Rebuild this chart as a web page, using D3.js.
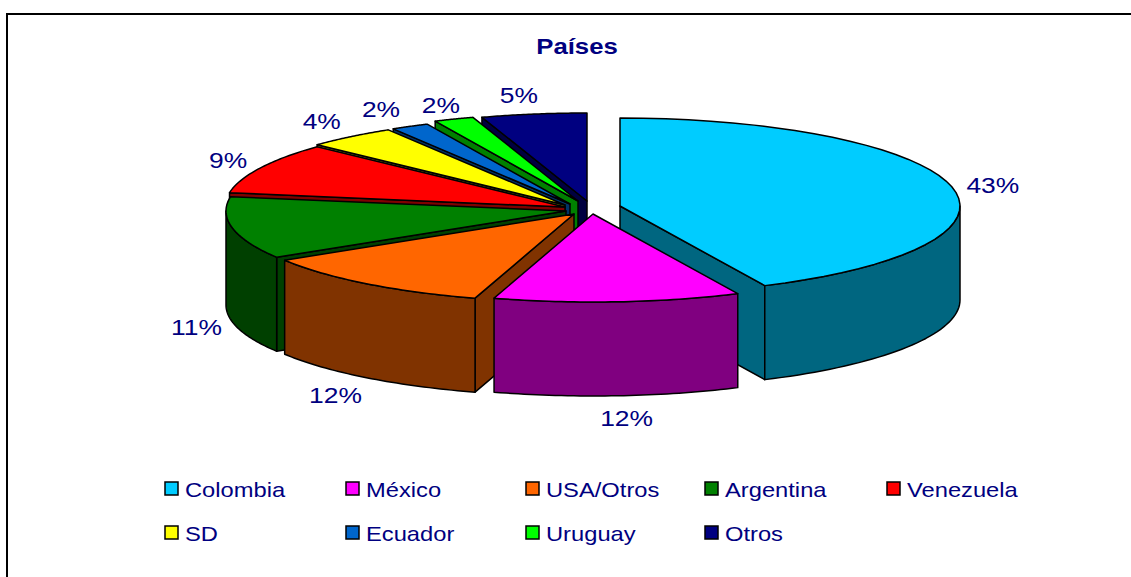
<!DOCTYPE html>
<html>
<head>
<meta charset="utf-8">
<script src="https://cdn.jsdelivr.net/npm/d3@7"></script>
<style>
  html, body { margin: 0; background: #fff; }
  svg { display: block; }
  text { font-family: "Liberation Sans", Arial, sans-serif; fill: #000080; }
</style>
</head>
<body>
<svg width="1131" height="577"></svg>
<script>
const categories = ["Colombia", "México", "USA/Otros", "Argentina", "Venezuela", "SD", "Ecuador", "Uruguay", "Otros"];
const shares = [43, 11.7, 11.5, 11.4, 9.4, 4.3, 1.8, 1.9, 5];
const topColors = ["#00ccff", "#ff00ff", "#ff6600", "#008000", "#ff0000", "#ffff00", "#0066cc", "#00ff00", "#000080"];
const wallColors = ["#006680", "#800080", "#803300", "#004000", "#800000", "#808000", "#003366", "#008000", "#000040"];

// where each exploded slice ends up, measured from the pie centre
const pieCentre = [580, 208];
const explode = [[40, -2], [13, 6], [-6, 6], [-14, 3], [-15, -1], [-15, -3], [-10, -4], [-2, -7], [7, -7]];
// label nudges from the rim
const labelNudge = [[41, -2], [9, 22], [-31, 17], [-36, 5], [-32, -8], [-29, -16], [-29, -17], [-13, -14], [-15, -19]];
const drawOrder = [8, 7, 6, 5, 4, 0, 3, 2, 1];

const rx = 340;
const ry = 88;
const depth = 94;
// the original text is wider than the font
const labelStretch = 1.2;
const legendStretch = 1.13;

const svg = d3.select("svg");

svg.append("rect")
  .attr("x", 7).attr("y", 14)
  .attr("width", 1140).attr("height", 580)
  .attr("fill", "#fff").attr("stroke", "#000").attr("stroke-width", 2);

// clockwise from 12 o'clock, same as d3.pie
const slices = d3.pie().sort(null).value((d) => d)(shares);

const xScale = d3.scaleLinear().domain([-1, 1]).range([-rx, rx]);
const yScale = d3.scaleLinear().domain([-1, 1]).range([-ry, ry]);

const rim = (i, a) => [
  pieCentre[0] + explode[i][0] + xScale(Math.sin(a)),
  pieCentre[1] + explode[i][1] + yScale(-Math.cos(a)),
];
const apex = (i) => [pieCentre[0] + explode[i][0], pieCentre[1] + explode[i][1]];
const down = (p) => [p[0], p[1] + depth];
const arcPoints = (i, a0, a1) =>
  d3.range(0, 41).map((k) => rim(i, a0 + ((a1 - a0) * k) / 40));

const line = d3.line();
const pies = svg.append("g")
  .attr("stroke", "#000").attr("stroke-width", 1.5).attr("stroke-linejoin", "round");

drawOrder.forEach((i) => {
  const s = slices[i];
  const g = pies.append("g");

  // cut faces turned towards the viewer
  [s.startAngle, s.endAngle].forEach((a, k) => {
    const visible = k === 0 ? Math.sin(a) < -0.001 : Math.sin(a) > 0.001;
    if (!visible) return;
    const r = rim(i, a);
    g.append("path")
      .attr("d", line([apex(i), r, down(r), down(apex(i))]) + "Z")
      .attr("fill", wallColors[i]);
  });

  // outer wall, only the front half of the rim
  const a0 = Math.max(s.startAngle, Math.PI / 2);
  const a1 = Math.min(s.endAngle, (3 * Math.PI) / 2);
  if (a1 > a0) {
    const front = arcPoints(i, a0, a1);
    g.append("path")
      .attr("d", line([...front, ...front.map(down).reverse()]) + "Z")
      .attr("fill", wallColors[i]);
  }

  g.append("path")
    .attr("d", line([apex(i), ...arcPoints(i, s.startAngle, s.endAngle)]) + "Z")
    .attr("fill", topColors[i]);
});

const wideText = (sel, x, y, stretch) =>
  sel.attr("transform", `translate(${x},${y}) scale(${stretch},1)`);

// percentage labels
slices.forEach((s, i) => {
  const mid = (s.startAngle + s.endAngle) / 2;
  const p = rim(i, mid);
  const y = p[1] + (Math.cos(mid) < 0 ? depth : 0);
  svg.append("text")
    .call(wideText, p[0] + labelNudge[i][0], y + labelNudge[i][1] + 8, labelStretch)
    .attr("text-anchor", "middle")
    .attr("font-size", 22)
    .text(`${Math.round(s.data)}%`);
});

svg.append("text")
  .call(wideText, 577, 54, 1.17)
  .attr("text-anchor", "middle")
  .attr("font-size", 22)
  .attr("font-weight", "bold")
  .text("Países");

// legend
const legendX = d3.scaleOrdinal().domain(d3.range(5)).range([164, 345, 525, 704, 886]);
const legendY = d3.scalePoint().domain([0, 1]).range([482, 526]);
const legend = svg.append("g");
categories.forEach((name, i) => {
  const x = legendX(i % 5);
  const y = legendY(Math.floor(i / 5));
  legend.append("rect")
    .attr("x", x + 1).attr("y", y)
    .attr("width", 13).attr("height", 13)
    .attr("fill", topColors[i])
    .attr("stroke", "#000").attr("stroke-width", 1.5);
  legend.append("text")
    .call(wideText, x + 21, y + 15, legendStretch)
    .attr("font-size", 21)
    .text(name);
});
</script>
</body>
</html>
